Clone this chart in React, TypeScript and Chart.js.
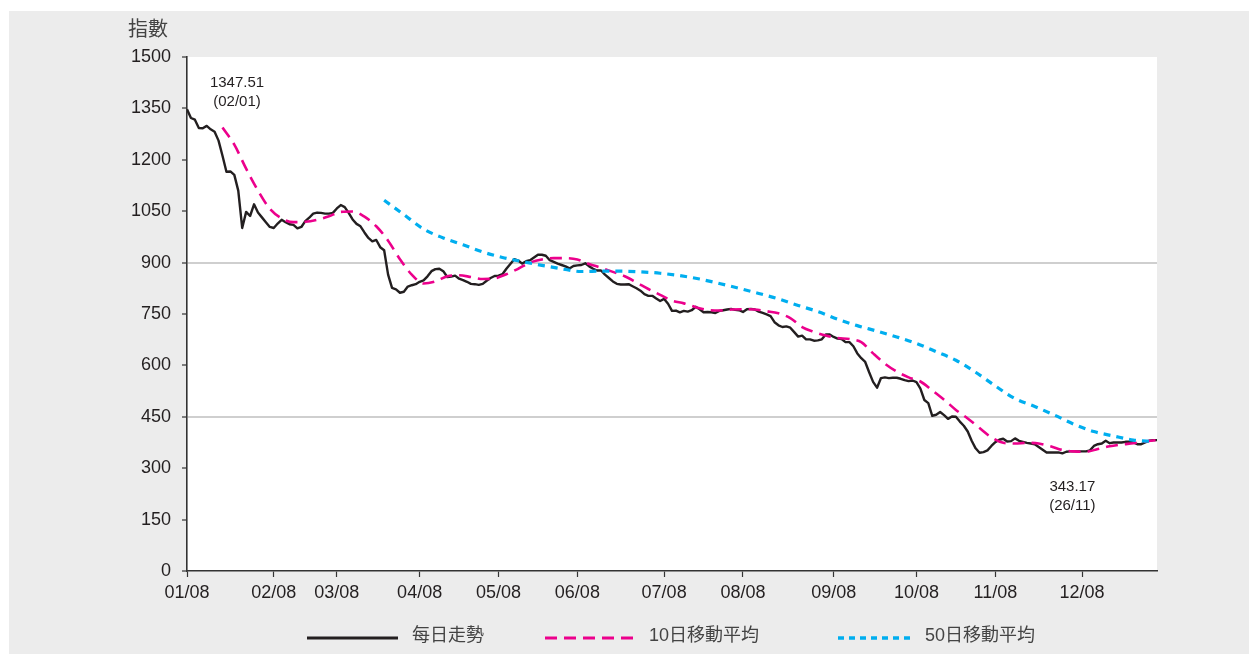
import React, { useEffect, useRef } from 'react';
import { Chart, registerables } from 'chart.js';

Chart.register(...registerables);

// ---- data (trading-day index 0 = 02/01/2008) ----
const dailyClose: number[] = [
  1347.51, 1322, 1317, 1293, 1292, 1299, 1289, 1282, 1256, 1212,
  1165, 1166, 1156, 1110, 1001, 1048, 1036, 1070, 1046, 1032,
  1018, 1004, 1001, 1014, 1025, 1018, 1012, 1010, 1000, 1004,
  1021, 1031, 1043, 1046, 1045, 1043, 1043, 1045, 1058, 1068,
  1062, 1045, 1026, 1013, 1006, 988, 972, 962, 966, 945,
  936, 865, 826, 822, 812, 815, 830, 834, 837, 844,
  848, 860, 875, 881, 882, 875, 858, 859, 862, 853,
  849, 844, 838, 837, 835, 838, 847, 855, 861, 862,
  866, 882, 896, 910, 906, 897, 904, 907, 915, 923,
  923, 920, 907, 902, 897, 893, 889, 883, 890, 892,
  893, 898, 889, 882, 877, 877, 865, 855, 845, 838,
  836, 836, 837, 831, 825, 818, 808, 803, 803, 795,
  788, 794, 780, 759, 760, 755, 759, 757, 761, 771,
  764, 755, 756, 755, 753, 759, 761, 763, 765, 762,
  761, 756, 764, 765, 763, 757, 753, 749, 744, 726,
  717, 712, 714, 710, 697, 684, 687, 676, 676, 672,
  673, 676, 690, 690, 683, 678, 677, 668, 668, 656,
  635, 621, 610, 580, 552, 535, 563, 565, 563, 564,
  564, 561, 557, 554, 556, 551, 532, 499, 490, 453,
  456, 464, 455, 444, 451, 450, 436, 424, 407, 380,
  358, 345, 347, 352, 365, 376, 383, 386, 378, 379,
  387, 380, 377, 374, 372, 370, 362, 354, 346, 346,
  346, 346, 343.17, 348, 349, 349, 349, 349, 349, 352,
  365, 370, 372, 380, 373, 375, 375, 375, 377, 377,
  375, 370, 370, 375, 380, 382, 382,
];

const ma10FirstDay = 9;
const ma10Step = 3;
const ma10Values: number[] = [
  1294, 1244, 1174, 1110, 1057, 1029, 1018, 1019, 1025, 1035,
  1048, 1049, 1034, 1006, 964, 910, 865, 839, 845, 860,
  863, 858, 852, 854, 866, 882, 900, 909, 913, 913,
  909, 896, 885, 873, 860, 842, 823, 806, 789, 781,
  770, 762, 760, 763, 764, 763, 758, 752, 738, 712,
  698, 687, 680, 677, 668, 635, 605, 582, 565, 553,
  527, 500, 470, 445, 417, 390, 374, 372, 374, 372,
  364, 353, 349, 348, 356, 364, 369, 373, 378, 382,
];

const ma50FirstDay = 50;
const ma50Step = 5;
const ma50Values: number[] = [
  1082, 1040, 998, 972, 952, 931, 915, 903, 892, 882,
  874, 875, 875, 873, 869, 862, 852, 839, 825, 810,
  794, 775, 757, 735, 716, 700, 683, 664, 640, 615,
  580, 540, 503, 480, 455, 428, 407, 394, 382, 378,
];

const monthStartDays: number[] = [0, 22, 38, 59, 79, 99, 121, 141, 164, 185, 205, 227];
const monthLabels: string[] = ['01/08', '02/08', '03/08', '04/08', '05/08', '06/08', '07/08', '08/08', '09/08', '10/08', '11/08', '12/08'];
const yTickValues: number[] = [0, 150, 300, 450, 600, 750, 900, 1050, 1200, 1350, 1500];
const gridLineValues: number[] = [450, 900];
const seriesNames: string[] = ['每日走勢', '10日移動平均', '50日移動平均'];
const seriesColors: string[] = ['#231f20', '#ec008c', '#00aeef'];
const highLabel: string[] = ['1347.51', '(02/01)'];
const highDay = 0;
const lowLabel: string[] = ['343.17', '(26/11)'];
const lowDay = 222;
const yTitle = '指數';

const LATIN = '"Liberation Sans", Arial, Helvetica, sans-serif';
const MIXED = '"Liberation Sans", "Noto Sans CJK TC", sans-serif';

const decorPlugin = {
  id: 'decor',
  beforeDraw(chart: any) {
    const { ctx, chartArea: a } = chart;
    ctx.save();
    ctx.fillStyle = '#ffffff';
    ctx.fillRect(a.left, a.top, a.right - a.left, a.bottom - a.top);
    ctx.restore();
  },
  afterDraw(chart: any) {
    const { ctx, chartArea: a, scales } = chart;
    const xs = scales.x;
    const ys = scales.y;
    ctx.save();
    ctx.textAlign = 'center';
    ctx.textBaseline = 'middle';

    // axis title
    ctx.font = '20px "Noto Sans CJK TC", sans-serif';
    ctx.fillStyle = '#444444';
    ctx.fillText(yTitle, a.left - 39, a.top - 29);

    // annotations
    ctx.font = '15px ' + LATIN;
    ctx.fillStyle = '#231f20';
    const hx = xs.getPixelForValue(highDay) + 50;
    const hy = ys.getPixelForValue(dailyClose[highDay]);
    ctx.fillText(highLabel[0], hx, hy - 26);
    ctx.fillText(highLabel[1], hx, hy - 7);
    const lx = xs.getPixelForValue(lowDay) + 10;
    const ly = ys.getPixelForValue(dailyClose[lowDay]);
    ctx.fillText(lowLabel[0], lx, ly + 33);
    ctx.fillText(lowLabel[1], lx, ly + 52);

    // legend
    const legendY = 627;
    const items = [
      { x0: 298, x1: 389, tx: 403, dash: [] as number[], w: 3.2 },
      { x0: 536, x1: 627, tx: 640, dash: [12, 7], w: 3 },
      { x0: 829, x1: 902, tx: 916, dash: [6, 5], w: 3.5 },
    ];
    items.forEach((it, i) => {
      ctx.beginPath();
      ctx.setLineDash(it.dash);
      ctx.lineWidth = it.w;
      ctx.strokeStyle = seriesColors[i];
      ctx.moveTo(it.x0, legendY);
      ctx.lineTo(it.x1, legendY);
      ctx.stroke();
      ctx.setLineDash([]);
      ctx.font = '18px ' + MIXED;
      ctx.fillStyle = '#444444';
      ctx.textAlign = 'left';
      ctx.fillText(seriesNames[i], it.tx, legendY - 2);
    });
    ctx.restore();
  },
};

export default function App() {
  const ref = useRef<HTMLCanvasElement>(null);

  useEffect(() => {
    if (!ref.current) return;
    const chart = new Chart(ref.current, {
      type: 'line',
      data: {
        datasets: [
          {
            label: seriesNames[0],
            data: dailyClose.map((v, i) => ({ x: i, y: v })),
            borderColor: seriesColors[0],
            borderWidth: 2.4,
            pointRadius: 0,
            tension: 0,
            borderJoinStyle: 'round',
            order: 3,
          },
          {
            label: seriesNames[1],
            data: ma10Values.map((v, k) => ({ x: ma10FirstDay + k * ma10Step, y: v })),
            borderColor: seriesColors[1],
            borderWidth: 2.6,
            borderDash: [12, 7],
            pointRadius: 0,
            cubicInterpolationMode: 'monotone',
            order: 2,
          },
          {
            label: seriesNames[2],
            data: ma50Values.map((v, k) => ({ x: ma50FirstDay + k * ma50Step, y: v })),
            borderColor: seriesColors[2],
            borderWidth: 3.2,
            borderDash: [7, 6],
            pointRadius: 0,
            cubicInterpolationMode: 'monotone',
            order: 1,
          },
        ],
      } as any,
      options: {
        animation: false,
        responsive: false,
        maintainAspectRatio: false,
        layout: { padding: { top: 46, right: 92, left: 0, bottom: 0 } },
        plugins: { legend: { display: false }, tooltip: { enabled: false } },
        scales: {
          x: {
            type: 'linear',
            min: 0,
            max: dailyClose.length - 1,
            afterBuildTicks: (s: any) => {
              s.ticks = monthStartDays.map((v) => ({ value: v }));
            },
            afterFit: (s: any) => {
              s.height = 83;
            },
            ticks: {
              autoSkip: false,
              maxRotation: 0,
              minRotation: 0,
              padding: 5,
              color: '#231f20',
              font: { family: LATIN, size: 18 },
              callback: (v: any) => {
                const k = monthStartDays.indexOf(Number(v));
                return k >= 0 ? monthLabels[k] : '';
              },
            },
            grid: {
              drawOnChartArea: false,
              drawTicks: true,
              tickLength: 6,
              tickColor: '#333333',
              tickWidth: 1.2,
            },
            border: { color: '#333333', width: 1.6 },
          },
          y: {
            min: 0,
            max: 1500,
            afterBuildTicks: (s: any) => {
              s.ticks = yTickValues.map((v) => ({ value: v }));
            },
            afterFit: (s: any) => {
              s.width = 178;
            },
            ticks: {
              padding: 11,
              color: '#231f20',
              font: { family: LATIN, size: 18 },
              callback: (v: any) => String(v),
            },
            grid: {
              color: (c: any) => (c.tick && gridLineValues.includes(c.tick.value) ? '#cfcfcf' : 'rgba(0,0,0,0)'),
              lineWidth: 2,
              drawTicks: true,
              tickLength: 5,
              tickColor: '#333333',
              tickWidth: 1.2,
            },
            border: { color: '#333333', width: 1.6 },
          },
        },
      } as any,
      plugins: [decorPlugin],
    });
    return () => chart.destroy();
  }, []);

  return (
    <div
      style={{
        position: 'absolute',
        left: 9,
        top: 11,
        width: 1240,
        height: 643,
        background: '#ececec',
      }}
    >
      <canvas ref={ref} width={1240} height={643} style={{ display: 'block' }} />
    </div>
  );
}
